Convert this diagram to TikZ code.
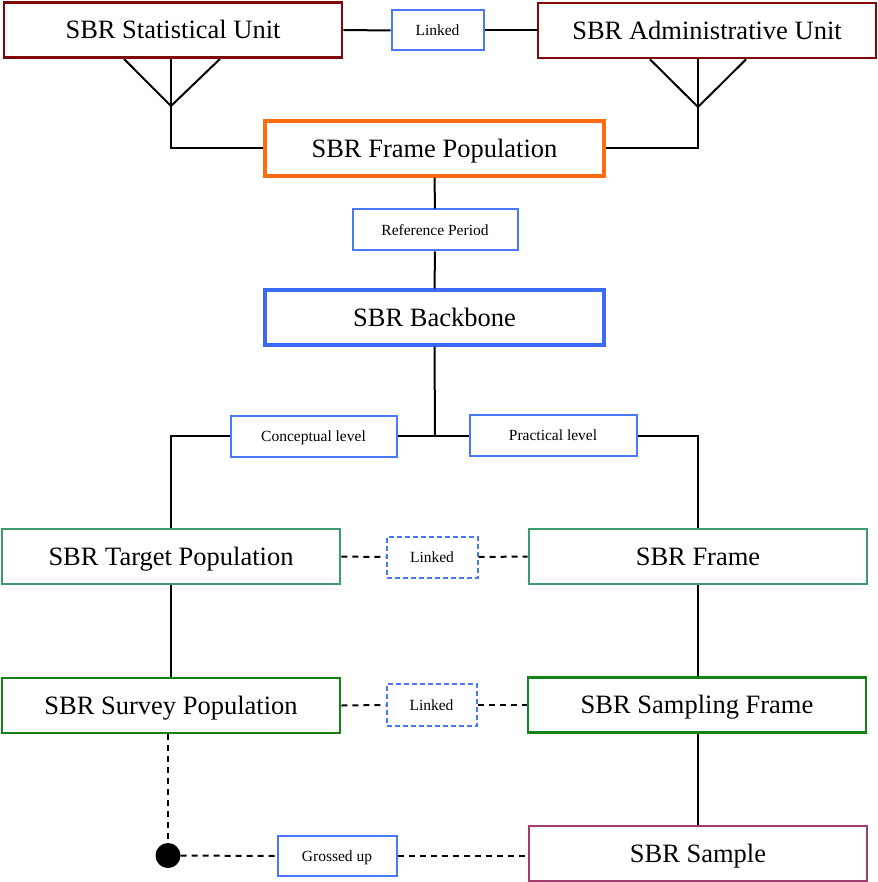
\documentclass[tikz,border=0pt]{standalone}
\usepackage{fontspec}
\setmainfont{Liberation Serif}
\usetikzlibrary{calc}
\definecolor{dred}{RGB}{128,8,8}
\definecolor{orng}{RGB}{255,108,16}
\definecolor{bblue}{RGB}{60,105,245}
\definecolor{tblue}{RGB}{72,120,255}
\definecolor{tgreen}{RGB}{60,155,110}
\definecolor{sgreen}{RGB}{20,130,20}
\definecolor{purp}{RGB}{160,60,110}
\begin{document}
\begin{tikzpicture}[x=1pt,y=-1pt,
  bigbox/.style={draw, fill=white, inner sep=0pt, minimum width=338pt, minimum height=55pt, line width=2.8pt, font=\fontsize{26.5}{30}\selectfont, text height=17.5pt, text depth=0pt},
  tagbox/.style={draw=tblue, fill=white, inner sep=0pt, line width=2pt, font=\fontsize{15.5}{18}\selectfont, text height=10.2pt, text depth=0pt},
  conn/.style={line width=2pt},
  dconn/.style={line width=2pt, dash pattern=on 6pt off 5pt}]
\useasboundingbox (0,0) rectangle (877,882);
% main boxes
\node[bigbox, draw=dred] (su) at (173,30) {SBR Statistical Unit};
\node[bigbox, draw=dred] (au) at (707,30.5) {SBR Administrative Unit};
\node[bigbox, draw=orng, line width=3.3pt, minimum width=339pt] (fp) at (434.5,148.5) {SBR Frame Population};
\node[bigbox, draw=bblue, line width=3.3pt, minimum width=339pt] (bb) at (434.5,317.5) {SBR Backbone};
\node[bigbox, draw=tgreen, line width=2.6pt] (tp) at (171,556.5) {SBR Target Population};
\node[bigbox, draw=tgreen, line width=2.6pt] (sf) at (698,556.5) {SBR Frame};
\node[bigbox, draw=sgreen, line width=2.9pt] (sp) at (171,705.5) {SBR Survey Population};
\node[bigbox, draw=sgreen, line width=2.9pt] (sam) at (697,705) {SBR Sampling Frame};
\node[bigbox, draw=purp, line width=2.6pt] (smp) at (698,853.5) {SBR Sample};
% tag boxes
\node[tagbox, minimum width=92pt, minimum height=40pt] (lk1) at (437.5,30.5) {Linked};
\node[tagbox, minimum width=165pt, minimum height=41pt] (rp) at (435,230) {Reference Period};
\node[tagbox, minimum width=166pt, minimum height=41pt] (cl) at (313.5,436) {Conceptual level};
\node[tagbox, minimum width=167pt, minimum height=41pt] (pl) at (553,435.5) {Practical level};
\node[tagbox, dash pattern=on 5pt off 3pt, minimum width=91pt, minimum height=41pt] (lk2) at (432,557) {Linked};
\node[tagbox, dash pattern=on 5pt off 3pt, minimum width=90pt, minimum height=42pt] (lk3) at (431.5,705) {Linked};
\node[tagbox, minimum width=119pt, minimum height=40pt] (gu) at (337,856) {Grossed up};
\node[circle, fill=black, inner sep=0pt, minimum size=25pt] (dot) at (168,855.5) {};
% coordinates
\coordinate (c1) at (171,106);
\coordinate (c2) at (698,107);
\coordinate (j) at (435,436);
% connectors
\draw[conn] (su.east) -- (lk1.west);
\draw[conn] (lk1.east) -- (au.west);
\draw[conn] ($(su.south)+(-49,0)$) -- (c1) -- ($(su.south)+(47,0)$);
\draw[conn] (c1 |- su.south) -- (c1) |- (fp.west);
\draw[conn] ($(au.south)+(-57,0)$) -- (c2) -- ($(au.south)+(39,0)$);
\draw[conn] (c2 |- au.south) -- (c2) |- (fp.east);
\draw[conn] (fp.south) -- (rp.north);
\draw[conn] (rp.south) -- (bb.north);
\draw[conn] (bb.south) -- (j);
\draw[conn] (cl.east) -- (j) -- (pl.west |- j);
\draw[conn] (cl.west) -| (tp.north);
\draw[conn] (pl.east |- j) -| (sf.north);
\draw[conn] (tp.south) -- (sp.north);
\draw[conn] (sf.south) -- (sam.north -| sf.south);
\draw[conn] (sam.south -| smp.north) -- (smp.north);
\draw[dconn] (tp.east) -- (lk2.west);
\draw[dconn] (lk2.east) -- (sf.west);
\draw[dconn] (sp.east) -- (lk3.west);
\draw[dconn] (lk3.east) -- (sam.west);
\draw[dconn] (sp.south -| dot) -- (dot);
\draw[dconn] (dot) -- (gu.west);
\draw[dconn] (gu.east) -- (gu.east -| smp.west);
\end{tikzpicture}
\end{document}
